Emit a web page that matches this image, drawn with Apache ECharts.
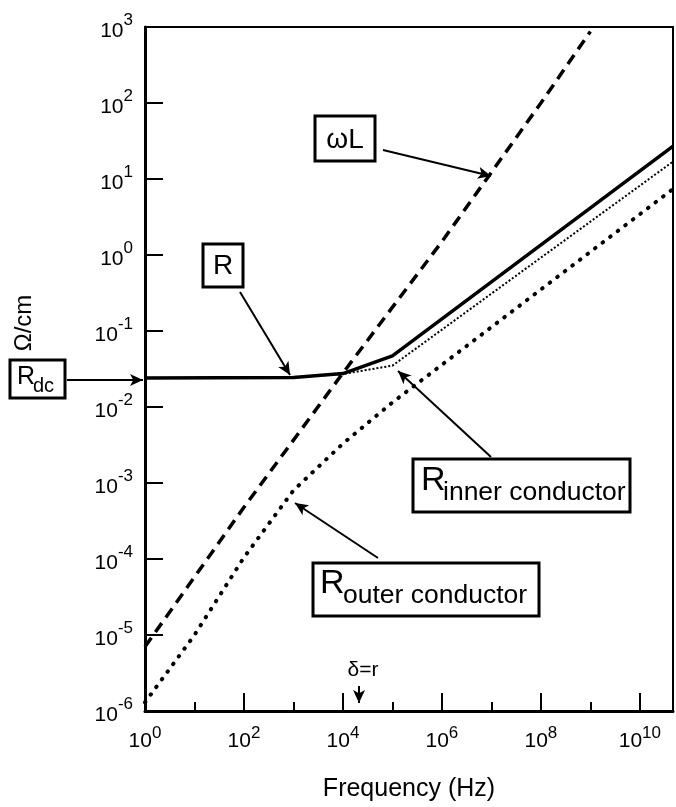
<!DOCTYPE html>
<html>
<head>
<meta charset="utf-8">
<title>Coax resistance vs frequency</title>
<script src="https://cdn.jsdelivr.net/npm/echarts@6/dist/echarts.min.js"></script>
<style>
  html, body { margin: 0; padding: 0; background: #fff; }
  #chart { width: 676px; height: 807px; }
</style>
</head>
<body>
<div id="chart"></div>
<script>
// ---------------------------------------------------
// Data (frequency in Hz, values in ohm/cm)
// ---------------------------------------------------
const omegaLFreq = [1, 1e2, 1e4, 1e6, 1e8, 1e9];
const omegaLOhm = [7e-6, 4.8e-4, 2.8e-2, 1.5, 100, 870];

const rFreq = [1, 1e3, 1e4, 1e5, 4.7e10];
const rOhm = [0.024, 0.0245, 0.0275, 0.047, 27];

const rInnerFreq = [1, 1e3, 1e4, 1e5, 4.7e10];
const rInnerOhm = [0.024, 0.0245, 0.0272, 0.035, 17];

const rOuterFreq = [1, 10, 1e2, 1e3, 1e4, 1e5, 4.7e10];
const rOuterOhm = [1.3e-6, 1e-5, 1.05e-4, 8e-4, 3.3e-3, 1.15e-2, 7.4];

// x axis runs in decades of frequency
const xDecadeMax = 10.67;
const yMin = 1e-6;
const yMax = 1e3;

const FONT = "Liberation Sans";

// build [log10(f), value] pairs for the decade axis
const pairs = (freqs, vals) => freqs.map((f, i) => [Math.log10(f), vals[i]]);

const powLabel = exp => `{b|10}{s|${exp}}`;

// ---------------------------------------------------
// Annotation boxes
// ---------------------------------------------------
function box(x, y, w, h) {
  return {
    type: "rect",
    shape: { x, y, width: w, height: h },
    style: { fill: "#fff", stroke: "#000", lineWidth: 3 },
    z: 100
  };
}

function txt(x, y, text, size, align) {
  return {
    type: "text",
    x, y,
    style: {
      text, fill: "#000", font: `${size}px ${FONT}`,
      align: align || "left", verticalAlign: "middle"
    },
    z: 101
  };
}

const graphics = [
  box(315, 116, 60, 45), txt(345, 140, "ωL", 28, "center"),
  box(203, 244, 40, 43), txt(223, 266, "R", 28, "center"),
  box(10, 360, 55, 38), txt(17, 377, "R", 25), txt(33, 386, "dc", 20),
  box(413, 459, 217, 53), txt(421, 481, "R", 34), txt(443, 493, "inner conductor", 26.5),
  box(313, 563, 226, 53), txt(320, 584, "R", 34), txt(343, 596, "outer conductor", 26.5),
  {
    type: "text", x: 24, y: 323, rotation: Math.PI / 2,
    style: { text: "Ω/cm", fill: "#000", font: `24px ${FONT}`, align: "center", verticalAlign: "middle" }
  },
  txt(363, 670, "δ=r", 21, "center")
];

// arrows (pixel positions of annotation leaders)
const arrows = [
  [{ x: 383, y: 150 }, { x: 491, y: 176 }],
  [{ x: 240, y: 292 }, { x: 290, y: 375 }],
  [{ x: 67, y: 380 }, { x: 143, y: 380 }],
  [{ x: 491, y: 457 }, { x: 398, y: 371 }],
  [{ x: 378, y: 558 }, { x: 295, y: 503 }],
  [{ x: 359, y: 686 }, { x: 359, y: 703 }]
];

// ---------------------------------------------------
// Chart
// ---------------------------------------------------
const chart = echarts.init(document.getElementById("chart"));

const baseX = {
  type: "value",
  min: 0,
  max: xDecadeMax,
  position: "bottom",
  splitLine: { show: false }
};

chart.setOption({
  animation: false,
  backgroundColor: "#fff",
  grid: {
    left: 145, right: 2, top: 27, bottom: 92,
    show: true, borderColor: "#000", borderWidth: 2
  },
  xAxis: [
    Object.assign({}, baseX, {
      interval: 1,
      axisLine: { lineStyle: { color: "#000", width: 3 } },
      axisTick: { inside: true, length: 9, lineStyle: { color: "#000", width: 2 } },
      axisLabel: { show: false }
    }),
    Object.assign({}, baseX, {
      interval: 2,
      axisLine: { show: false },
      axisTick: { inside: true, length: 18, lineStyle: { color: "#000", width: 2 } },
      axisLabel: {
        margin: 14,
        color: "#000",
        formatter: v => (Number.isInteger(v) && v % 2 === 0 ? powLabel(v) : ""),
        rich: {
          b: { fontSize: 21, padding: [6, 0, 0, 0] },
          s: { fontSize: 17, verticalAlign: "top" }
        }
      },
      name: "Frequency (Hz)",
      nameLocation: "middle",
      nameGap: 66,
      nameTextStyle: { fontSize: 25, color: "#000" }
    })
  ],
  yAxis: {
    type: "log",
    logBase: 10,
    min: yMin,
    max: yMax,
    axisLine: { show: true, lineStyle: { color: "#000", width: 3 } },
    axisTick: { show: true, inside: true, length: 18, lineStyle: { color: "#000", width: 2 } },
    splitLine: { show: false },
    axisLabel: {
      margin: 12,
      color: "#000",
      formatter: v => powLabel(Math.round(Math.log10(v))),
      rich: {
        b: { fontSize: 21, padding: [9, 0, 0, 0] },
        s: { fontSize: 17, verticalAlign: "top" }
      }
    }
  },
  series: [
    {
      name: "R outer conductor",
      type: "line",
      data: pairs(rOuterFreq, rOuterOhm),
      showSymbol: false,
      lineStyle: { color: "#000", width: 4, type: [0.5, 9], cap: "round" },
      z: 2
    },
    {
      name: "R inner conductor",
      type: "line",
      data: pairs(rInnerFreq, rInnerOhm),
      showSymbol: false,
      lineStyle: { color: "#000", width: 2, type: [2, 2] },
      z: 3
    },
    {
      name: "ωL",
      type: "line",
      data: pairs(omegaLFreq, omegaLOhm),
      showSymbol: false,
      lineStyle: { color: "#000", width: 3.5, type: [11, 7] },
      z: 4
    },
    {
      name: "R",
      type: "line",
      data: pairs(rFreq, rOhm),
      showSymbol: false,
      lineStyle: { color: "#000", width: 3.5 },
      z: 5
    },
    {
      name: "leaders",
      type: "line",
      data: [],
      clip: false,
      markLine: {
        silent: true,
        animation: false,
        symbol: ["none", "arrow"],
        symbolSize: [9, 13],
        label: { show: false },
        lineStyle: { color: "#000", width: 2, type: "solid" },
        data: arrows
      }
    }
  ],
  graphic: graphics
});
</script>
</body>
</html>
